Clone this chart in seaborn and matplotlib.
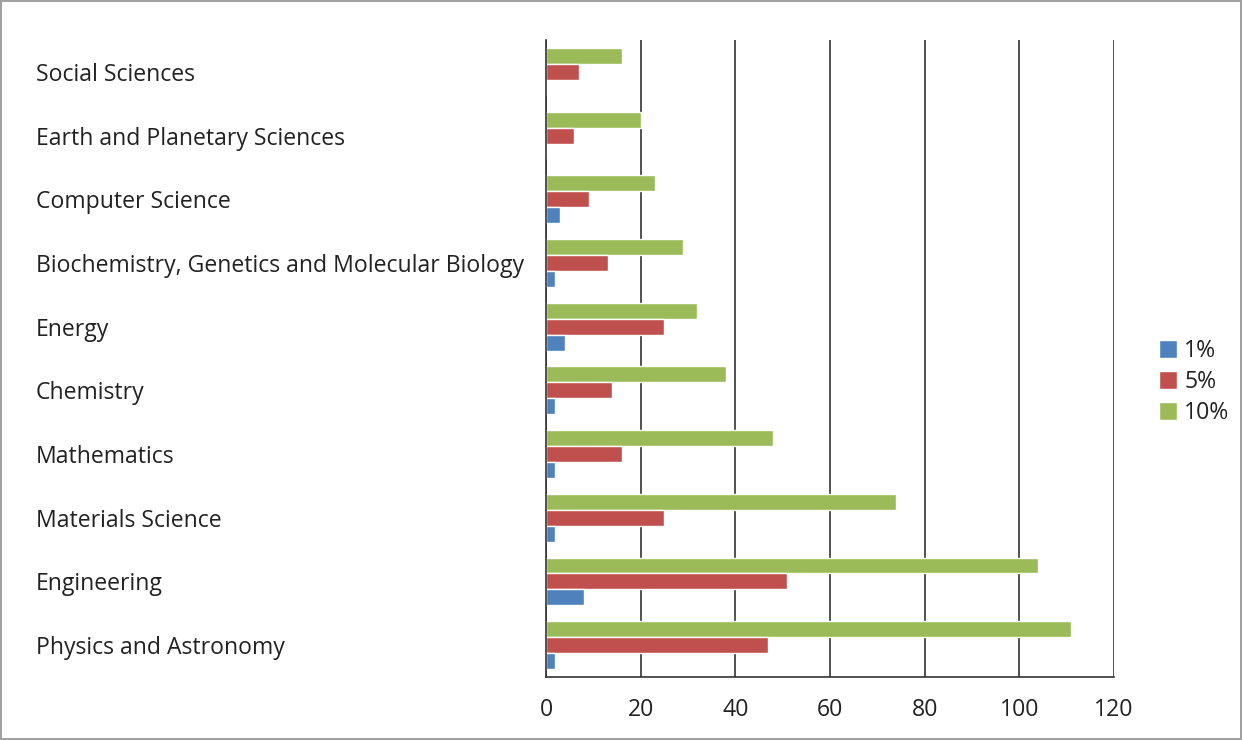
import numpy as np
import pandas as pd
import matplotlib
matplotlib.use("Agg")
import matplotlib.pyplot as plt
import seaborn as sns

# data (top to bottom)
categories = ["Social Sciences", "Earth and Planetary Sciences", "Computer Science",
              "Biochemistry, Genetics and Molecular Biology", "Energy", "Chemistry",
              "Mathematics", "Materials Science", "Engineering", "Physics and Astronomy"]
pct_1 = [0, 0, 3, 2, 4, 2, 2, 2, 8, 2]
pct_5 = [7, 6, 9, 13, 25, 14, 16, 25, 51, 47]
pct_10 = [16, 20, 23, 29, 32, 38, 48, 74, 104, 111]
x_ticks = [0, 20, 40, 60, 80, 100, 120]

df = pd.DataFrame({
    "category": categories * 3,
    "value": pct_10 + pct_5 + pct_1,
    "series": ["10%"] * 10 + ["5%"] * 10 + ["1%"] * 10,
})

colors = {"1%": "#4F81BD", "5%": "#C0504D", "10%": "#9BBB59"}
fs = 16.6

sns.set_style("white")
plt.rcParams["font.family"] = ["Open Sans", "DejaVu Sans"]

fig = plt.figure(figsize=(12.42, 7.40), dpi=100, edgecolor="#a0a0a0", linewidth=1.5)
ax = fig.add_axes([546 / 1242, 1 - 677 / 740, 568 / 1242, 637 / 740])

sns.barplot(data=df, y="category", x="value", hue="series", order=categories,
            hue_order=["10%", "5%", "1%"], palette=colors, orient="h",
            width=0.75, saturation=1, ax=ax, legend=True)

ax.set_xlim(0, 120)
ax.set_ylim(9.5, -0.5)
ax.set_xticks(x_ticks)
ax.set_xticklabels([str(t) for t in x_ticks], fontsize=fs, color="#222222")
ax.set_xlabel("")
ax.set_ylabel("")

# vertical gridlines
ax.grid(axis="x", color="#333333", linewidth=1.2)
ax.grid(axis="y", visible=False)
ax.set_axisbelow(True)

for s in ["top", "right"]:
    ax.spines[s].set_visible(False)
for s in ["left", "bottom"]:
    ax.spines[s].set_color("#333333")
    ax.spines[s].set_linewidth(1.2)

# category labels left-aligned at figure left
ax.tick_params(axis="y", which="major", length=0, pad=510 * 0.72)
for lab in ax.get_yticklabels():
    lab.set_ha("left")
    lab.set_fontsize(fs)
    lab.set_color("#222222")
ax.set_yticks(np.arange(-0.5, 10, 1), minor=True)
ax.tick_params(axis="y", which="minor", length=6, width=1.2, color="#333333", direction="out")
ax.tick_params(axis="x", length=6, width=1.2, color="#333333", direction="out", pad=9)

# legend in 1%, 5%, 10% order
handles, labels = ax.get_legend_handles_labels()
order = [labels.index(l) for l in ["1%", "5%", "10%"]]
leg = ax.legend([handles[i] for i in order], [labels[i] for i in order],
                loc="center left", bbox_to_anchor=(1159 / 1242, 1 - 382 / 740),
                bbox_transform=fig.transFigure, frameon=False, fontsize=fs,
                handlelength=0.8, handleheight=0.8, handletextpad=0.3, labelspacing=0.3,
                borderaxespad=0, borderpad=0)
for t in leg.get_texts():
    t.set_color("#222222")

fig.savefig("out.png", dpi=100)
